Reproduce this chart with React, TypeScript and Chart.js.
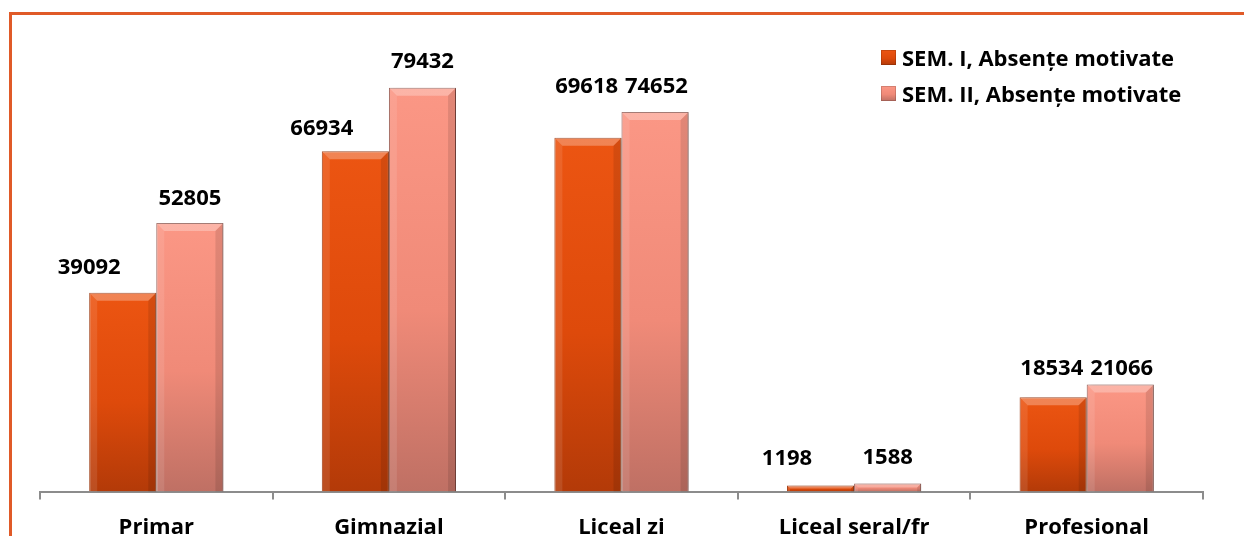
import { useEffect, useRef } from "react";
import { Chart, registerables } from "chart.js";

Chart.register(...registerables);

// ---- data ----
const categories = ["Primar", "Gimnazial", "Liceal zi", "Liceal seral/fr", "Profesional"];
const sem1Values = [39092, 66934, 69618, 1198, 18534];
const sem2Values = [52805, 79432, 74652, 1588, 21066];
const seriesNames = ["SEM. I, Absențe motivate", "SEM. II, Absențe motivate"];
const yMax = 90000;

// ---- label placement (styling, not data) ----
const LABEL_SHIFT = [
  [-0.5, -0.5, -0.02, -0.5, -0.02],
  [0, 0, 0.02, 0, 0.02],
];
const LABEL_LIFT = [
  [25, 23, 51, 27, 29],
  [24, 26, 25, 26, 16],
];

const FONT = "'Open Sans', 'Noto Sans', sans-serif";

const COLORS = [
  { top: "#EC5512", mid: "#DE4A0B", bottom: "#B33A08", border: "#9E3306" },
  { top: "#FB9785", mid: "#F08A78", bottom: "#BF7064", border: "#8E5148" },
];

function gradientFor(di: number) {
  return (ctx: any) => {
    const chart = ctx.chart;
    const area = chart.chartArea;
    const y = chart.scales && chart.scales.y;
    const c = COLORS[di];
    if (!area || !y || ctx.type !== "data") return c.mid;
    const v = ctx.raw as number;
    const top = y.getPixelForValue(v);
    const bottom = y.getPixelForValue(0);
    if (!isFinite(top) || bottom - top < 1) return c.mid;
    const g = chart.ctx.createLinearGradient(0, top, 0, bottom);
    g.addColorStop(0, c.top);
    g.addColorStop(0.55, c.mid);
    g.addColorStop(1, c.bottom);
    return g;
  };
}

const shadowPlugin = {
  id: "barShadow",
  beforeDatasetsDraw(chart: any) {
    const ctx = chart.ctx;
    ctx.save();
    ctx.shadowColor = "rgba(0,0,0,0.22)";
    ctx.shadowBlur = 5;
    ctx.shadowOffsetX = 2;
    ctx.shadowOffsetY = 0;
  },
  afterDatasetsDraw(chart: any) {
    chart.ctx.restore();
  },
};

const bevelPlugin = {
  id: "barBevel",
  afterDatasetsDraw(chart: any) {
    const ctx = chart.ctx;
    ctx.save();
    [1, 0].forEach((di) => {
      const meta = chart.getDatasetMeta(di);
      meta.data.forEach((bar: any) => {
        const { x, y, width, base } = bar.getProps(["x", "y", "width", "base"], true);
        const l = x - width / 2;
        const r = x + width / 2;
        const h = base - y;
        const b = Math.min(8, h / 2);
        ctx.beginPath();
        ctx.moveTo(l, y);
        ctx.lineTo(r, y);
        ctx.lineTo(r - b, y + b);
        ctx.lineTo(l + b, y + b);
        ctx.closePath();
        ctx.fillStyle = "rgba(255,255,255,0.28)";
        ctx.fill();
        ctx.beginPath();
        ctx.moveTo(l, y);
        ctx.lineTo(l + b, y + b);
        ctx.lineTo(l + b, base);
        ctx.lineTo(l, base);
        ctx.closePath();
        ctx.fillStyle = "rgba(255,255,255,0.10)";
        ctx.fill();
        ctx.beginPath();
        ctx.moveTo(r, y);
        ctx.lineTo(r - b, y + b);
        ctx.lineTo(r - b, base);
        ctx.lineTo(r, base);
        ctx.closePath();
        ctx.fillStyle = "rgba(0,0,0,0.10)";
        ctx.fill();
      });
    });
    ctx.restore();
  },
};

const labelPlugin = {
  id: "barLabels",
  afterDatasetsDraw(chart: any) {
    const ctx = chart.ctx;
    ctx.save();
    ctx.font = `bold 22px ${FONT}`;
    ctx.fillStyle = "#000";
    ctx.textAlign = "center";
    ctx.textBaseline = "middle";
    chart.data.datasets.forEach((ds: any, di: number) => {
      const meta = chart.getDatasetMeta(di);
      meta.data.forEach((bar: any, i: number) => {
        const { x, y, width } = bar.getProps(["x", "y", "width"], true);
        ctx.fillText(String(ds.data[i]), x + LABEL_SHIFT[di][i] * width, y - LABEL_LIFT[di][i]);
      });
    });
    ctx.restore();
  },
};

export default function App() {
  const canvasRef = useRef<HTMLCanvasElement | null>(null);

  useEffect(() => {
    const canvas = canvasRef.current;
    if (!canvas) return;
    const chart = new Chart(canvas, {
      type: "bar",
      data: {
        labels: categories,
        datasets: [
          {
            label: seriesNames[0],
            data: sem1Values,
            backgroundColor: gradientFor(0),
            borderColor: COLORS[0].border,
            borderWidth: 1,
            barPercentage: 1,
            categoryPercentage: 0.577,
          },
          {
            label: seriesNames[1],
            data: sem2Values,
            backgroundColor: gradientFor(1),
            borderColor: COLORS[1].border,
            borderWidth: 1,
            barPercentage: 1,
            categoryPercentage: 0.577,
          },
        ],
      },
      options: {
        responsive: false,
        animation: false,
        devicePixelRatio: 1,
        layout: { padding: { left: 40, right: 41, top: 34, bottom: 4 } },
        plugins: {
          legend: { display: false },
          tooltip: { enabled: false },
        },
        scales: {
          x: {
            grid: {
              display: true,
              drawOnChartArea: false,
              drawTicks: true,
              tickLength: 8,
              color: "#8C8C8C",
              lineWidth: 2,
            },
            border: { display: true, color: "#8C8C8C", width: 2 },
            ticks: {
              color: "#000",
              padding: 15,
              font: { family: FONT, size: 22, weight: "bold", lineHeight: 1.2 },
            },
          },
          y: {
            display: false,
            min: 0,
            max: yMax,
          },
        },
      },
      plugins: [shadowPlugin, bevelPlugin, labelPlugin],
    });
    return () => chart.destroy();
  }, []);

  const legendMarker = (di: number) => ({
    width: 15,
    height: 15,
    background: `linear-gradient(180deg, ${COLORS[di].top} 0%, ${COLORS[di].mid} 55%, ${COLORS[di].bottom} 100%)`,
    boxShadow: "inset 0 0 0 1px rgba(0,0,0,0.15)",
    marginRight: 6,
    flex: "0 0 auto",
  });

  return (
    <div
      style={{
        position: "fixed",
        left: 0,
        top: 0,
        width: 1244,
        height: 536,
        overflow: "hidden",
        background: "#fff",
      }}
    >
      <canvas
        ref={canvasRef}
        width={1244}
        height={560}
        style={{ position: "absolute", left: 0, top: 0, width: 1244, height: 560 }}
      />
      <div
        style={{
          position: "absolute",
          left: 9,
          top: 12,
          width: 1400,
          height: 700,
          border: "3px solid #E05A28",
          boxSizing: "border-box",
          pointerEvents: "none",
        }}
      />
      <div
        style={{
          position: "absolute",
          left: 881,
          top: 39,
          fontFamily: FONT,
          fontWeight: 700,
          fontSize: 22,
          color: "#000",
        }}
      >
        {seriesNames.map((n, i) => (
          <div key={n} style={{ display: "flex", alignItems: "center", height: 36, whiteSpace: "nowrap" }}>
            <div style={legendMarker(i)} />
            <span>{n}</span>
          </div>
        ))}
      </div>
    </div>
  );
}
